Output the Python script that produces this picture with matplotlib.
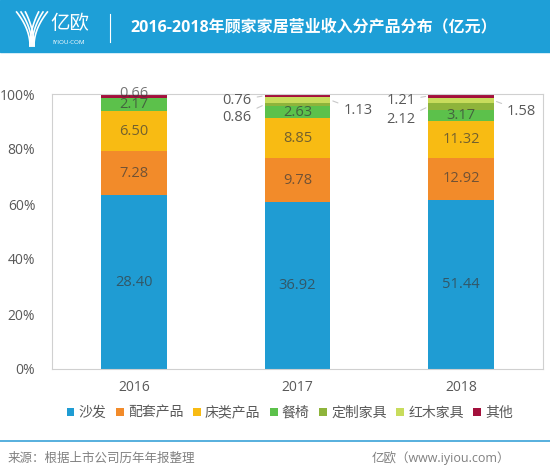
import numpy as np
import matplotlib.pyplot as plt
from matplotlib.patches import Rectangle
from matplotlib.lines import Line2D

plt.rcParams['font.family'] = ['Open Sans', 'Noto Sans CJK SC', 'DejaVu Sans']

years = ['2016', '2017', '2018']
products = ['沙发', '配套产品', '床类产品', '餐椅', '定制家具', '红木家具', '其他']
sofa = [28.40, 36.92, 51.44]
match = [7.28, 9.78, 12.92]
bed = [6.50, 8.85, 11.32]
chair = [2.17, 2.63, 3.17]
custom = [0.0, 0.86, 2.12]
mahogany = [0.0, 1.13, 1.58]
other = [0.66, 0.76, 1.21]

colors = ['#1f9cd3', '#f28b2a', '#f8bb13', '#5cc14b', '#8eb43b', '#c8dc5c', '#a3103c']

series = np.array([sofa, match, bed, chair, custom, mahogany, other])
totals = series.sum(axis=0)
pct = series / totals * 100

fig = plt.figure(figsize=(5.5, 4.75), dpi=100)
ax = fig.add_axes([52/550, 1-369/475, 491/550, 275/475])

x = np.arange(len(years))
w = 0.4
bottom = np.zeros(len(years))
bars = []
for i, name in enumerate(products):
    b = ax.bar(x, pct[i], w, bottom=bottom, color=colors[i], label=name, zorder=2)
    bars.append(b)
    bottom += pct[i]

# labels inside segments
lab_kw = dict(ha='center', va='center', fontsize=10.5, color='#3a3a3a', alpha=0.7, zorder=3)
cum = np.cumsum(pct, axis=0)
for i in range(len(products)):
    for j in range(len(years)):
        v = series[i, j]
        if v == 0:
            continue
        if i >= 4 and j > 0:
            continue
        mid = cum[i, j] - pct[i, j] / 2
        if i == 6 and j == 0:
            mid = cum[i, j] + 0.3
        ax.text(x[j], mid, '%.2f' % v, **lab_kw)

# small segments labelled outside with leader lines
out_kw = dict(fontsize=10.5, color='#595959', va='center', zorder=3)
line_kw = dict(arrowstyle='-', color='#c8c8c8', lw=0.8)
for j in [1, 2]:
    # 其他: upper left
    m = cum[6, j] - pct[6, j] / 2
    ax.annotate('%.2f' % series[6, j], xy=(x[j] - w/2, m), xytext=(x[j] - 0.28, m - 1.7),
                ha='right', arrowprops=line_kw, **out_kw)
    # 定制家具: lower left
    m = cum[4, j] - pct[4, j] / 2
    ax.annotate('%.2f' % series[4, j], xy=(x[j] - w/2, m), xytext=(x[j] - 0.28, m - 4.8),
                ha='right', arrowprops=line_kw, **out_kw)
    # 红木家具: right
    m = cum[5, j] - pct[5, j] / 2
    ax.annotate('%.2f' % series[5, j], xy=(x[j] + w/2, m), xytext=(x[j] + 0.28, m - 3.8),
                ha='left', arrowprops=line_kw, **out_kw)

ax.set_xlim(-0.5, 2.5)
ax.set_ylim(0, 100)
ax.set_xticks(x)
ax.set_xticklabels(years)
ax.set_yticks([0, 20, 40, 60, 80, 100])
ax.set_yticklabels(['%d%%' % t for t in [0, 20, 40, 60, 80, 100]])
ax.tick_params(length=0, labelsize=10, colors='#595959', pad=8)
ax.tick_params(axis='y', pad=12)
for s in ax.spines.values():
    s.set_color('#d0d0d0')
    s.set_linewidth(0.8)

fig.legend(handles=bars, labels=products, loc='center', bbox_to_anchor=(0.527, 0.13), ncol=7,
           frameon=False, fontsize=10, handlelength=0.55, handleheight=0.55,
           handletextpad=0.3, columnspacing=0.7, labelcolor='#595959')

# header band
fig.patches.append(Rectangle((0, 1-52/475), 1, 52/475, transform=fig.transFigure,
                             color='#1e9fd7', zorder=0))
fig.text(130/550, 1-27/475, '2016-2018年顾家家居营业收入分产品分布（亿元）', color='white',
         fontsize=11.5, fontweight='bold', va='center', ha='left')
fig.text(50/550, 1-24/475, '亿欧', color='white', fontsize=14, va='center', ha='left')
fig.text(52/550, 1-42/475, 'IYIOU·COM', color='white', fontsize=4.5, va='center', ha='left')
fig.add_artist(Line2D([110/550, 110/550], [1-14/475, 1-42/475], color='white', lw=0.8,
                      transform=fig.transFigure))
# logo mark
t = np.linspace(0, 1, 30)
for off in [-4, 0, 4]:
    fig.add_artist(Line2D((32 + off*0.5 - (11 - off*0.6) * t**2) / 550,
                          1 - (46 - 34 * t) / 475, color='white', lw=1.2,
                          transform=fig.transFigure))
    fig.add_artist(Line2D((32 + off*0.5 + (11 + off*0.6) * t**2) / 550,
                          1 - (46 - 34 * t) / 475, color='white', lw=1.2,
                          transform=fig.transFigure))

# footer
fig.add_artist(Line2D([0, 1], [1-441/475, 1-441/475], color='#3aa2d8', lw=1.2,
                      transform=fig.transFigure))
fig.text(8/550, 1-458/475, '来源：根据上市公司历年年报整理', color='#808080', fontsize=9,
         va='center', ha='left')
fig.text(510/550, 1-458/475, '亿欧（www.iyiou.com）', color='#808080', fontsize=9,
         va='center', ha='right')

fig.savefig('out.png', dpi=100)
